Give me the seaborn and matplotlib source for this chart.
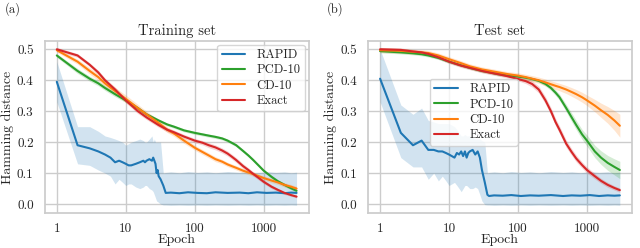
import numpy as np
import pandas as pd
import matplotlib
matplotlib.use("Agg")
import matplotlib.pyplot as plt
import seaborn as sns
from matplotlib.ticker import FixedLocator, FixedFormatter, NullLocator

# ---- training set ----
train_rapid_epoch = [1, 2, 3, 4, 5, 6, 7, 8, 9, 10, 11, 12, 14, 16, 18, 19, 20, 22, 24, 25,
                     26, 27, 28, 29, 30, 32, 35, 38, 45, 60, 80, 110, 150, 200, 300, 450,
                     600, 800, 1100, 1500, 2000, 2500, 3000]
train_rapid_mean = [0.395, 0.19, 0.18, 0.17, 0.16, 0.15, 0.135, 0.14, 0.135, 0.13, 0.125, 0.125,
                    0.13, 0.135, 0.14, 0.135, 0.14, 0.145, 0.14, 0.15, 0.14, 0.13, 0.10, 0.11,
                    0.09, 0.08, 0.06, 0.036, 0.037, 0.035, 0.038, 0.036, 0.035, 0.038, 0.036,
                    0.037, 0.035, 0.038, 0.036, 0.037, 0.035, 0.037, 0.036]
train_rapid_lo = [0.33, 0.13, 0.125, 0.11, 0.10, 0.09, 0.065, 0.08, 0.07, 0.06, 0.065, 0.065,
                  0.055, 0.05, 0.055, 0.06, 0.06, 0.05, 0.045, 0.04, 0.03, 0.02, 0.01, 0.008,
                  0.005, 0.0, -0.003, -0.003, -0.004, -0.003, -0.004, -0.003, -0.004, -0.003,
                  -0.004, -0.003, -0.004, -0.003, -0.004, -0.003, -0.004, -0.003, -0.004]
train_rapid_hi = [0.46, 0.25, 0.25, 0.235, 0.22, 0.215, 0.21, 0.205, 0.20, 0.19, 0.195, 0.20,
                  0.205, 0.21, 0.205, 0.20, 0.20, 0.21, 0.22, 0.20, 0.21, 0.20, 0.20, 0.20,
                  0.20, 0.20, 0.10, 0.102, 0.104, 0.101, 0.105, 0.102, 0.104, 0.101, 0.105,
                  0.102, 0.104, 0.101, 0.105, 0.102, 0.104, 0.101, 0.103]

smooth_epoch = [1, 2, 3, 4, 5, 7, 10, 15, 20, 30, 40, 50, 70, 100, 130, 160, 200, 250, 300,
                350, 400, 500, 600, 700, 850, 1000, 1300, 1600, 2000, 2500, 3000]
train_pcd = [0.48, 0.43, 0.405, 0.39, 0.375, 0.355, 0.335, 0.31, 0.29, 0.27, 0.257, 0.25,
             0.238, 0.23, 0.225, 0.221, 0.217, 0.212, 0.205, 0.197, 0.19, 0.172, 0.157,
             0.143, 0.124, 0.108, 0.088, 0.074, 0.062, 0.051, 0.043]
train_cd = [0.497, 0.46, 0.43, 0.41, 0.39, 0.365, 0.34, 0.31, 0.29, 0.262, 0.24, 0.228,
            0.205, 0.182, 0.168, 0.157, 0.145, 0.137, 0.128, 0.122, 0.117, 0.108, 0.102,
            0.097, 0.09, 0.084, 0.076, 0.07, 0.062, 0.056, 0.05]
train_exact = [0.50, 0.48, 0.45, 0.425, 0.40, 0.37, 0.335, 0.30, 0.28, 0.255, 0.24, 0.232,
               0.218, 0.205, 0.198, 0.19, 0.183, 0.173, 0.163, 0.152, 0.142, 0.123, 0.11,
               0.098, 0.084, 0.072, 0.056, 0.046, 0.036, 0.029, 0.024]
train_pcd_err = [0.006, 0.008, 0.008, 0.008, 0.008, 0.008, 0.007, 0.006, 0.006, 0.005, 0.005,
                 0.005, 0.005, 0.005, 0.005, 0.005, 0.005, 0.005, 0.005, 0.005, 0.005, 0.005,
                 0.005, 0.005, 0.005, 0.005, 0.005, 0.005, 0.005, 0.005, 0.005]
train_cd_err = [0.006, 0.008, 0.01, 0.011, 0.012, 0.012, 0.012, 0.012, 0.01, 0.01, 0.009,
                0.009, 0.009, 0.008, 0.008, 0.008, 0.008, 0.007, 0.007, 0.007, 0.007, 0.007,
                0.007, 0.007, 0.007, 0.007, 0.007, 0.007, 0.007, 0.007, 0.007]
train_exact_err = [0.006, 0.006, 0.006, 0.007, 0.007, 0.008, 0.008, 0.008, 0.007, 0.007,
                   0.007, 0.007, 0.007, 0.007, 0.007, 0.008, 0.008, 0.008, 0.008, 0.008,
                   0.008, 0.008, 0.007, 0.007, 0.007, 0.006, 0.006, 0.005, 0.005, 0.004,
                   0.004]

# ---- test set ----
test_rapid_epoch = [1, 2, 3, 4, 5, 6, 7, 8, 9, 10, 12, 13, 14, 15, 16, 17, 18, 19, 20, 22,
                    24, 26, 28, 30, 33, 36, 38, 45, 60, 80, 110, 150, 200, 300, 450, 600,
                    800, 1100, 1500, 2000, 2500, 3000]
test_rapid_mean = [0.405, 0.23, 0.19, 0.205, 0.175, 0.175, 0.17, 0.17, 0.165, 0.16, 0.15,
                   0.165, 0.16, 0.17, 0.155, 0.17, 0.15, 0.165, 0.17, 0.175, 0.16, 0.17,
                   0.15, 0.11, 0.07, 0.03, 0.026, 0.028, 0.027, 0.029, 0.026, 0.028, 0.027,
                   0.029, 0.026, 0.028, 0.027, 0.029, 0.026, 0.028, 0.027, 0.028]
test_rapid_lo = [0.33, 0.15, 0.12, 0.12, 0.08, 0.10, 0.075, 0.09, 0.075, 0.06, 0.07, 0.06,
                 0.05, 0.04, 0.05, 0.06, 0.06, 0.055, 0.05, 0.05, 0.055, 0.05, 0.03, 0.01,
                 -0.002, -0.003, -0.003, -0.004, -0.003, -0.004, -0.003, -0.004, -0.003,
                 -0.004, -0.003, -0.004, -0.003, -0.004, -0.003, -0.004, -0.003, -0.004]
test_rapid_hi = [0.50, 0.32, 0.29, 0.31, 0.27, 0.265, 0.26, 0.26, 0.26, 0.26, 0.25, 0.24,
                 0.23, 0.22, 0.22, 0.225, 0.22, 0.22, 0.22, 0.215, 0.21, 0.21, 0.21, 0.205,
                 0.20, 0.10, 0.102, 0.104, 0.101, 0.105, 0.102, 0.104, 0.101, 0.105,
                 0.102, 0.104, 0.101, 0.105, 0.102, 0.104, 0.101, 0.103]

test_pcd = [0.494, 0.49, 0.487, 0.484, 0.48, 0.472, 0.46, 0.448, 0.44, 0.43, 0.425, 0.42,
            0.416, 0.412, 0.408, 0.404, 0.398, 0.388, 0.375, 0.36, 0.345, 0.31, 0.28,
            0.255, 0.225, 0.205, 0.17, 0.15, 0.133, 0.12, 0.11]
test_cd = [0.497, 0.495, 0.492, 0.49, 0.488, 0.48, 0.468, 0.455, 0.445, 0.435, 0.43, 0.426,
           0.42, 0.415, 0.41, 0.405, 0.40, 0.393, 0.387, 0.382, 0.378, 0.37, 0.362, 0.355,
           0.345, 0.335, 0.318, 0.303, 0.288, 0.27, 0.253]
test_exact = [0.50, 0.498, 0.493, 0.49, 0.485, 0.474, 0.46, 0.447, 0.44, 0.43, 0.424, 0.42,
              0.413, 0.404, 0.397, 0.388, 0.37, 0.335, 0.30, 0.265, 0.24, 0.195, 0.168,
              0.147, 0.126, 0.11, 0.09, 0.075, 0.062, 0.052, 0.045]
test_pcd_err = [0.005, 0.005, 0.005, 0.005, 0.005, 0.005, 0.005, 0.005, 0.005, 0.005, 0.005,
                0.005, 0.005, 0.005, 0.005, 0.005, 0.005, 0.007, 0.008, 0.009, 0.01, 0.012,
                0.014, 0.015, 0.016, 0.018, 0.02, 0.022, 0.024, 0.026, 0.028]
test_cd_err = [0.008, 0.008, 0.008, 0.008, 0.008, 0.008, 0.008, 0.008, 0.008, 0.008, 0.008,
               0.008, 0.008, 0.009, 0.009, 0.01, 0.01, 0.011, 0.011, 0.012, 0.012, 0.013,
               0.014, 0.015, 0.016, 0.017, 0.02, 0.023, 0.027, 0.032, 0.037]
test_exact_err = [0.006, 0.006, 0.006, 0.006, 0.006, 0.006, 0.006, 0.006, 0.006, 0.006,
                  0.006, 0.006, 0.006, 0.006, 0.008, 0.01, 0.011, 0.012, 0.012, 0.012,
                  0.012, 0.012, 0.011, 0.011, 0.01, 0.01, 0.009, 0.008, 0.008, 0.007, 0.007]

methods = ["RAPID", "PCD-10", "CD-10", "Exact"]
colors = {"RAPID": "#1f77b4", "PCD-10": "#2ca02c", "CD-10": "#ff7f0e", "Exact": "#d62728"}


def build_frame(rapid_epoch, rapid_mean, pcd, cd, exact):
    parts = [pd.DataFrame({"epoch": rapid_epoch, "value": rapid_mean, "method": "RAPID"})]
    for name, vals in [("PCD-10", pcd), ("CD-10", cd), ("Exact", exact)]:
        parts.append(pd.DataFrame({"epoch": smooth_epoch, "value": vals, "method": name}))
    return pd.concat(parts, ignore_index=True)


def draw_panel(ax, title, df, rapid_epoch, rapid_lo, rapid_hi, errs, legend_kw):
    ax.fill_between(rapid_epoch, rapid_lo, rapid_hi, color=colors["RAPID"], alpha=0.2, lw=0)
    for name, err in errs.items():
        vals = df.loc[df["method"] == name, "value"].to_numpy()
        ax.fill_between(smooth_epoch, vals - np.array(err), vals + np.array(err),
                        color=colors[name], alpha=0.2, lw=0)
    sns.lineplot(data=df, x="epoch", y="value", hue="method", hue_order=methods,
                 palette=colors, ax=ax, linewidth=1.5, estimator=None, sort=False)
    ax.set_xscale("log")
    ax.xaxis.set_major_locator(FixedLocator([1, 10, 100, 1000]))
    ax.xaxis.set_major_formatter(FixedFormatter(["1", "10", "100", "1000"]))
    ax.xaxis.set_minor_locator(NullLocator())
    ax.set_yticks([0.0, 0.1, 0.2, 0.3, 0.4, 0.5])
    ax.set_yticklabels(["0.0", "0.1", "0.2", "0.3", "0.4", "0.5"])
    ax.set_xlim(0.67, 4500)
    ax.set_ylim(-0.029, 0.527)
    ax.set_title(title, fontsize=10.5, pad=4)
    ax.set_xlabel("Epoch", fontsize=10, labelpad=-1)
    ax.set_ylabel("Hamming distance", fontsize=10, labelpad=2)
    ax.tick_params(axis="x", labelsize=9.5, pad=1)
    ax.tick_params(axis="y", labelsize=9.5, pad=2)
    leg = ax.legend(title=None, fontsize=9, frameon=True, handlelength=1.9,
                    handletextpad=0.9, borderpad=0.35, labelspacing=0.25,
                    borderaxespad=0.3, **legend_kw)
    for line in leg.get_lines():
        line.set_linewidth(1.5)


sns.set_theme(style="whitegrid")
plt.rcParams["font.family"] = ["cmr10", "DejaVu Serif"]
plt.rcParams["axes.formatter.use_mathtext"] = True
plt.rcParams["mathtext.fontset"] = "cm"

fig, (ax1, ax2) = plt.subplots(1, 2, figsize=(6.4, 2.48), dpi=100)
fig.subplots_adjust(left=0.07, right=0.9875, top=0.835, bottom=0.141, wspace=0.225)

train_df = build_frame(train_rapid_epoch, train_rapid_mean, train_pcd, train_cd, train_exact)
test_df = build_frame(test_rapid_epoch, test_rapid_mean, test_pcd, test_cd, test_exact)

draw_panel(ax1, "Training set", train_df, train_rapid_epoch, train_rapid_lo, train_rapid_hi,
           {"PCD-10": train_pcd_err, "CD-10": train_cd_err, "Exact": train_exact_err},
           dict(loc="upper right"))
draw_panel(ax2, "Test set", test_df, test_rapid_epoch, test_rapid_lo, test_rapid_hi,
           {"PCD-10": test_pcd_err, "CD-10": test_cd_err, "Exact": test_exact_err},
           dict(loc="lower left", bbox_to_anchor=(0.22, 0.37)))

fig.text(0.008, 0.965, "(a)", fontsize=9, va="center")
fig.text(0.511, 0.965, "(b)", fontsize=9, va="center")

fig.savefig("out.png", dpi=100)
